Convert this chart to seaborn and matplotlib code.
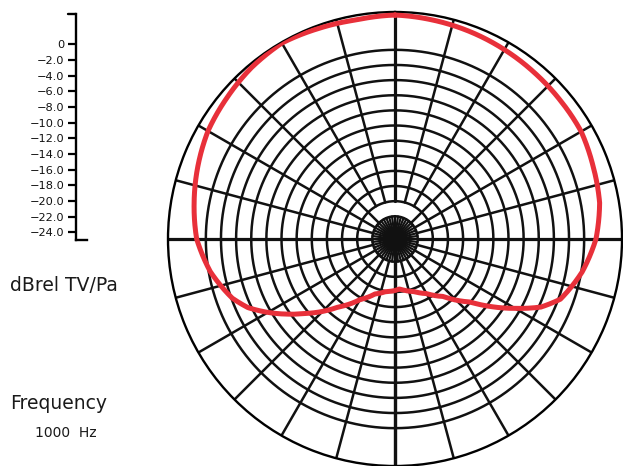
import numpy as np
import matplotlib
matplotlib.use("Agg")
import matplotlib.pyplot as plt
import seaborn as sns

# polar response (degrees clockwise from front, dB)
angles_deg = [0, 10, 20, 30, 40, 50, 60, 70, 80, 90, 100, 110, 115, 120, 125,
              130, 140, 150, 160, 170, 175, 180, 190, 200, 210, 220, 230, 235,
              240, 245, 250, 260, 270, 280, 290, 300, 310, 320, 330, 340, 350, 360]
level_db = [4.60, 4.36, 4.14, 3.90, 3.68, 3.51, 3.41, 2.88, 2.46, 1.56, 0.11,
            -1.74, -3.72, -6.67, -9.41, -12.05, -15.09, -16.67, -17.60, -18.13,
            -18.37, -18.19, -17.94, -17.27, -15.75, -13.24, -9.70, -7.69, -5.60,
            -3.55, -2.12, -0.21, 1.21, 1.96, 2.75, 3.54, 4.01, 4.54, 4.90, 4.60,
            4.40, 4.60]

scale_ticks = [0, -2, -4, -6, -8, -10, -12, -14, -16, -18, -20, -22, -24]
scale_labels = ["0", "\u22122.0", "\u22124.0", "\u22126.0", "\u22128.0", "\u221210.0",
                "\u221212.0", "\u221214.0", "\u221216.0", "\u221218.0", "\u221220.0",
                "\u221222.0", "\u221224.0"]
big_ticks = [-2, -10, -20]

R_MIN, R_MAX = -25, 5
ring_levels = np.arange(-22, 1, 2)

sns.set_style("white")
plt.rcParams['font.family'] = ['DejaVu Sans']

fig = plt.figure(figsize=(6.23, 4.66), dpi=100)
W, H = 623, 466

# polar chart
ax = fig.add_axes([168 / W, 0.0, 454 / W, 454 / H], projection='polar')
ax.set_theta_zero_location('N')
ax.set_theta_direction(-1)
ax.set_ylim(R_MIN, R_MAX)
ax.grid(False)
ax.set_xticks([])
ax.set_yticks([])
ax.spines['polar'].set_color('black')
ax.spines['polar'].set_linewidth(1.7)

full = np.linspace(0, 2 * np.pi, 721)
for lv in ring_levels:
    ax.plot(full, np.full_like(full, lv), color='#111111', lw=1.8, zorder=2)

# dense spokes near the centre
for a in np.arange(0, 360, 7.5):
    t = np.deg2rad(a)
    ax.plot([t, t], [R_MIN, -22], color='#111111', lw=1.6, zorder=2)

# 15 degree spokes
for a in range(0, 360, 15):
    t = np.deg2rad(a)
    start = -20 if (a <= 30 or a >= 330) else -22
    lw = 2.3 if a % 90 == 0 else 1.8
    ax.plot([t, t], [start, R_MAX], color='#111111', lw=lw, zorder=2)
# the vertical axis line goes right through below centre
ax.plot([np.pi, np.pi], [R_MIN, R_MAX], color='#111111', lw=2.3, zorder=2)

ax.fill(full, np.full_like(full, -23.6), color='#111111', zorder=3)

sns.lineplot(x=np.deg2rad(angles_deg), y=level_db, ax=ax, sort=False,
             color='#e8303a', lw=3.6, zorder=5)
# let the polar transform bend the segments between readings
red = ax.lines[-1]
red._path._interpolation_steps = 40
red.set_solid_joinstyle('round')
ax.set_xlabel('')
ax.set_ylabel('')

# dB scale on the left
sc = fig.add_axes([76 / W, 1 - 240 / H, 11 / W, 226 / H])
sc.set_facecolor('none')
sc.set_ylim(-25, 3.87)
sc.set_xlim(0, 1)
for s in ['top', 'right']:
    sc.spines[s].set_visible(False)
for s in ['left', 'bottom']:
    sc.spines[s].set_color('black')
    sc.spines[s].set_linewidth(1.7)
sc.set_xticks([])
sc.set_yticks(scale_ticks)
sc.set_yticklabels(scale_labels)
sc.set_yticks(big_ticks, minor=True)
sc.tick_params(axis='y', which='major', direction='out', length=5.8, width=1.6,
               labelsize=8.2, pad=2.5, left=True, color='black', labelcolor='#111111')
sc.tick_params(axis='y', which='minor', direction='inout', length=12.5, width=2.4,
               left=True, color='black')
sc.plot([-0.73, 0], [1, 1], transform=sc.transAxes, clip_on=False,
        color='black', lw=1.7)

fig.text(10 / W, 1 - 291 / H, 'dBrel TV/Pa', fontsize=13.5, va='baseline', color='#1a1a1a')
fig.text(10 / W, 1 - 409 / H, 'Frequency', fontsize=13.5, va='baseline', color='#1a1a1a')
fig.text(35 / W, 1 - 437 / H, '1000  Hz', fontsize=10, va='baseline', color='#1a1a1a')

fig.savefig('out.png', dpi=100)
plt.close(fig)
